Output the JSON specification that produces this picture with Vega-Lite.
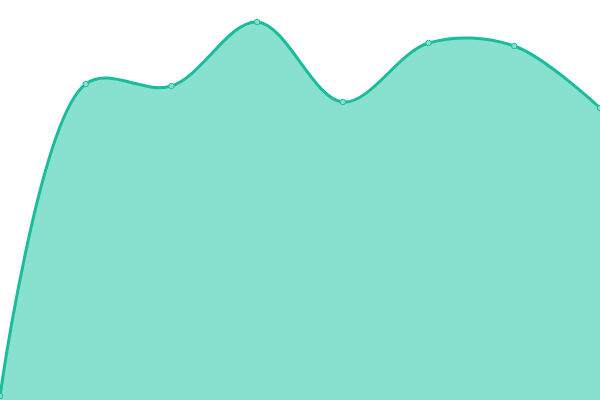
{
  "$schema": "https://vega.github.io/schema/vega-lite/v6.json",
  "width": 600,
  "height": 400,
  "autosize": {"type": "none"},
  "padding": 0,
  "background": "white",
  "config": {"view": {"stroke": null}},
  "data": {"values": [
    {"i": 0, "v": 4},
    {"i": 1, "v": 316},
    {"i": 2, "v": 314},
    {"i": 3, "v": 378},
    {"i": 4, "v": 298},
    {"i": 5, "v": 357},
    {"i": 6, "v": 354},
    {"i": 7, "v": 292}
  ]},
  "encoding": {
    "x": {"field": "i", "type": "quantitative", "scale": {"domain": [0, 7], "nice": false, "zero": false}, "axis": null},
    "y": {"field": "v", "type": "quantitative", "scale": {"domain": [0, 400], "nice": false}, "axis": null}
  },
  "layer": [
    {"mark": {"type": "area", "interpolate": "catmull-rom", "color": "#88e0cf", "opacity": 1}},
    {"mark": {"type": "line", "interpolate": "catmull-rom", "color": "#1abc9c", "strokeWidth": 3}},
    {"mark": {"type": "point", "filled": true, "fill": "#88e0cf", "stroke": "#1abc9c", "strokeWidth": 1, "size": 30, "opacity": 1}}
  ]
}
